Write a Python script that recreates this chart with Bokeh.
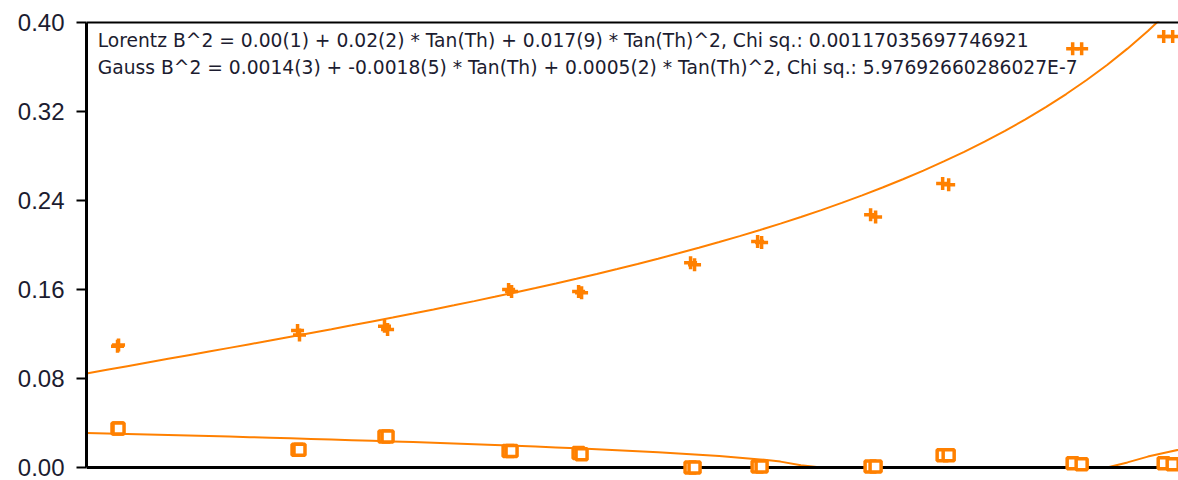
import numpy as np
from bokeh.plotting import figure
from bokeh.models import Range1d, FixedTicker, PrintfTickFormatter, Span, Label
from bokeh.embed import file_html
from bokeh.resources import INLINE

# Peak positions (2-theta, degrees); each reflection appears as a close pair
two_theta = [35.04, 35.14, 52.68, 52.87, 61.20, 61.50, 73.36, 73.65,
             80.22, 80.51, 91.19, 91.58, 97.76, 98.15, 108.83, 109.32,
             115.89, 116.48, 128.63, 129.51, 137.55, 138.43]

# Integral breadths of the Lorentzian and Gaussian components
lorentz_b = [0.109, 0.110, 0.123, 0.119, 0.127, 0.124, 0.160, 0.158,
             0.158, 0.157, 0.184, 0.182, 0.203, 0.202, 0.227, 0.225,
             0.255, 0.254, 0.376, 0.376, 0.387, 0.387]
gauss_b = [0.035, 0.035, 0.016, 0.016, 0.028, 0.028, 0.015, 0.015,
           0.013, 0.012, 0.000, 0.000, 0.001, 0.001, 0.001, 0.001,
           0.011, 0.011, 0.004, 0.003, 0.004, 0.003]

# Fit coefficients: B^2 = a + b*tan(th) + c*tan(th)^2
lorentz_coef = [0.00, 0.02, 0.017]
gauss_coef = [0.00144, -0.00178, 0.0005]

y_ticks = [0.00, 0.08, 0.16, 0.24, 0.32, 0.40]

lorentz_text = ("Lorentz B^2 = 0.00(1) + 0.02(2) * Tan(Th) + 0.017(9) * Tan(Th)^2, "
                "Chi sq.: 0.00117035697746921")
gauss_text = ("Gauss B^2 = 0.0014(3) + -0.0018(5) * Tan(Th) + 0.0005(2) * Tan(Th)^2, "
              "Chi sq.: 5.97692660286027E-7")

ORANGE = "#ff8000"
FONT = "Liberation Sans"
NOTE_FONT = "DejaVu Sans"
TEXT_COLOR = "#1c1c30"

X0, X1 = 32.0, 139.0


def fit_curve(coef, tt):
    t = np.tan(np.radians(tt / 2.0))
    b2 = coef[0] + coef[1] * t + coef[2] * t ** 2
    return np.sqrt(np.clip(b2, 0.0, None))


p = figure(width=1178, height=480, output_backend="svg", toolbar_location=None,
           x_range=Range1d(X0, X1), y_range=Range1d(-0.008, 0.4005),
           min_border_left=86, min_border_right=0, min_border_top=21,
           min_border_bottom=4, background_fill_color="white",
           border_fill_color="white")
p.outline_line_color = None
p.grid.visible = False
p.xaxis.visible = False

ax = p.yaxis[0]
ax.ticker = FixedTicker(ticks=y_ticks)
ax.formatter = PrintfTickFormatter(format="%.2f")
ax.bounds = (0.0, 0.40)
ax.axis_line_width = 3
ax.axis_line_color = "black"
ax.major_tick_line_width = 2
ax.major_tick_line_color = "black"
ax.major_tick_out = 10
ax.major_tick_in = 0
ax.minor_tick_line_color = None
ax.major_label_standoff = 12
ax.major_label_text_font = FONT
ax.major_label_text_font_size = "24px"
ax.major_label_text_color = TEXT_COLOR

# Fitted curves, evaluated on a 2-degree grid
tt = np.arange(X0, X1 + 2.0, 2.0)
p.line(tt, fit_curve(lorentz_coef, tt), line_color=ORANGE, line_width=2)
p.line(tt, fit_curve(gauss_coef, tt), line_color=ORANGE, line_width=2)

# Frame lines along the bottom and the top
p.add_layout(Span(location=0.0, dimension="width", line_color="black", line_width=3))
p.add_layout(Span(location=0.40, dimension="width", line_color="black", line_width=3))

# Measured points
r1 = p.scatter(two_theta, lorentz_b, marker="cross", size=13,
               line_color=ORANGE, line_width=3.5)
r2 = p.scatter(two_theta, gauss_b, marker="square", size=11,
               line_color=ORANGE, line_width=3.5, fill_color="white")
r1.level = "overlay"
r2.level = "overlay"

p.add_layout(Label(x=33.1, y=0.383, text=lorentz_text, text_font=NOTE_FONT,
                   text_font_size="18.7px", text_color=TEXT_COLOR,
                   text_baseline="alphabetic"))
p.add_layout(Label(x=33.1, y=0.3588, text=gauss_text, text_font=NOTE_FONT,
                   text_font_size="18.7px", text_color=TEXT_COLOR,
                   text_baseline="alphabetic"))

open("out.html", "w").write(file_html(p, INLINE))
